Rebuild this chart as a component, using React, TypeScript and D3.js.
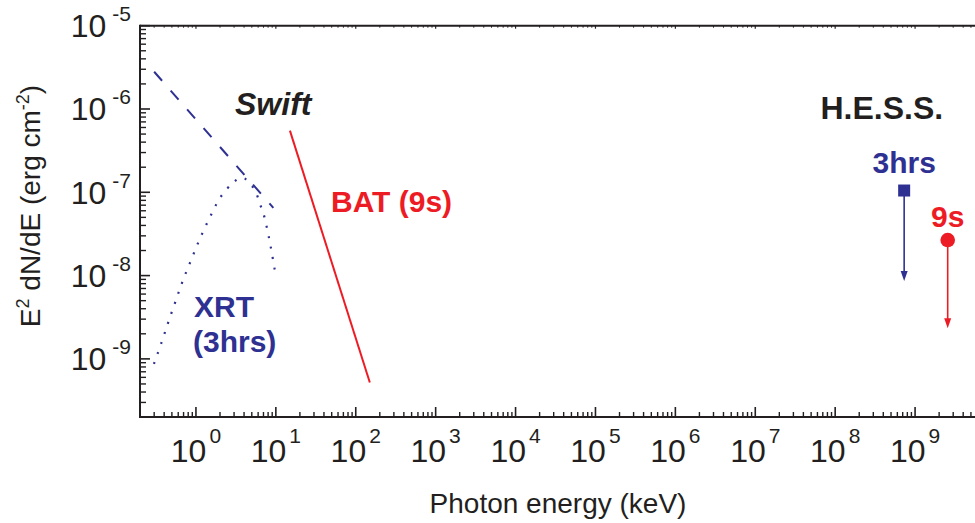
import React from "react";
import * as d3 from "d3";

const W = 975;
const H = 523;
const NAVY = "#2E3192";
const RED = "#ED1C24";
const INK = "#231F20";
const FONT = "'Liberation Sans', Arial, Helvetica, sans-serif";

// axes
const xDomain: [number, number] = [0.2, Math.pow(10, 9.8)];
const yDomain: [number, number] = [2e-10, 1e-5];
const xMajorExps = [0, 1, 2, 3, 4, 5, 6, 7, 8, 9];
const yMajorExps = [-5, -6, -7, -8, -9];
const xTitle = "Photon energy (keV)";

// Swift XRT (3hrs) power law (dashed)
const xrtPowerLawE = [0.3, 9.3];
const xrtPowerLawF = [2.8e-6, 6.5e-8];

// Swift XRT (3hrs) absorbed spectrum (dotted)
const xrtSpecE = [0.298, 0.368, 0.45, 0.557, 0.688, 0.873, 1.12, 1.48, 2.0, 2.85, 3.52, 4.0, 4.39, 5.13, 5.85, 6.32, 6.95, 7.96, 8.86, 9.75];
const xrtSpecF = [8.7e-10, 1.54e-9, 2.75e-9, 4.95e-9, 8.8e-9, 1.55e-8, 2.77e-8, 4.91e-8, 8.55e-8, 1.28e-7, 1.47e-7, 1.47e-7, 1.38e-7, 1.16e-7, 9.1e-8, 7.24e-8, 5.69e-8, 3.27e-8, 1.92e-8, 1.13e-8];

// Swift BAT (9s)
const batE = [15, 150];
const batF = [5.5e-7, 5.2e-10];

// H.E.S.S. upper limits
const hessE = [7.3e8, 2.56e9];
const hessF = [1.05e-7, 2.67e-8];
const hessLimitF = [8.6e-9, 2.33e-9];
const hessLabels = ["3hrs", "9s"];
const hessColors = [NAVY, RED];

export default function App() {
  const x = d3.scaleLog().domain(xDomain).range([140.1, 979]);
  const y = d3.scaleLog().domain(yDomain).range([417.1, 25.7]);
  const left = 140;
  const bottom = 417;
  const top = 25.7;
  const right = W;

  const line = d3
    .line<[number, number]>()
    .x((d) => x(d[0]))
    .y((d) => y(d[1]));
  const curve = d3
    .line<[number, number]>()
    .x((d) => x(d[0]))
    .y((d) => y(d[1]))
    .curve(d3.curveCatmullRom.alpha(0.5));

  const xMinor: number[] = [];
  for (let e = -1; e <= 9; e++) {
    for (let m = 2; m <= 9; m++) {
      const v = m * Math.pow(10, e);
      if (v >= xDomain[0] && v <= xDomain[1]) xMinor.push(v);
    }
  }
  const yMinor: number[] = [];
  for (let e = -10; e <= -6; e++) {
    for (let m = 2; m <= 9; m++) {
      const v = m * Math.pow(10, e);
      if (v >= yDomain[0] && v <= yDomain[1]) yMinor.push(v);
    }
  }

  const zip = (a: number[], b: number[]) => a.map((v, i) => [v, b[i]] as [number, number]);

  return (
    <div style={{ position: "fixed", left: 0, top: 0, width: W, height: H, background: "#fff" }}>
      <svg width={W} height={H} style={{ display: "block" }} fontFamily={FONT}>
        <rect width={W} height={H} fill="#fff" />

        {/* bottom axis ticks */}
        {xMajorExps.map((e) => (
          <line key={"xM" + e} x1={x(Math.pow(10, e))} x2={x(Math.pow(10, e))} y1={bottom} y2={bottom - 10} stroke={INK} strokeWidth={1.6} />
        ))}
        {xMinor.map((v, i) => (
          <line key={"xm" + i} x1={x(v)} x2={x(v)} y1={bottom} y2={bottom - 5} stroke={INK} strokeWidth={1.4} />
        ))}
        {/* top axis small ticks */}
        {xMajorExps.map((e) => (
          <line key={"tM" + e} x1={x(Math.pow(10, e))} x2={x(Math.pow(10, e))} y1={top} y2={top + 3} stroke={INK} strokeWidth={1.2} />
        ))}
        {xMinor.map((v, i) => (
          <line key={"tm" + i} x1={x(v)} x2={x(v)} y1={top} y2={top + 2} stroke={INK} strokeWidth={1} />
        ))}
        {/* left axis ticks */}
        {yMajorExps.map((e) => (
          <line key={"yM" + e} x1={left} x2={left + 10} y1={y(Math.pow(10, e))} y2={y(Math.pow(10, e))} stroke={INK} strokeWidth={1.6} />
        ))}
        {yMinor.map((v, i) => (
          <line key={"ym" + i} x1={left} x2={left + 6} y1={y(v)} y2={y(v)} stroke={INK} strokeWidth={1.4} />
        ))}

        {/* axis lines */}
        <line x1={left} x2={right} y1={bottom} y2={bottom} stroke={INK} strokeWidth={2} />
        <line x1={left} x2={right} y1={top} y2={top} stroke={INK} strokeWidth={2} />
        <line x1={left} x2={left} y1={top - 1} y2={bottom + 1} stroke={INK} strokeWidth={2} />

        {/* x tick labels */}
        {xMajorExps.map((e) => (
          <text key={"xl" + e} x={x(Math.pow(10, e))} y={461.5} textAnchor="middle" fill={INK} fontSize={32}>
            <tspan>10</tspan>
            <tspan dx={3} dy={-19} fontSize={21}>{String(e)}</tspan>
          </text>
        ))}
        {/* y tick labels */}
        {yMajorExps.map((e) => (
          <text key={"yl" + e} x={131} y={y(Math.pow(10, e)) + 11.5} textAnchor="end" fill={INK} fontSize={32}>
            <tspan>10</tspan>
            <tspan dx={6} dy={-16} fontSize={21}>{"-" + String(-e)}</tspan>
          </text>
        ))}

        {/* axis titles */}
        <text x={558} y={513} textAnchor="middle" fill={INK} fontSize={28}>
          {xTitle}
        </text>
        <text transform="translate(40,206) rotate(-90)" textAnchor="middle" fill={INK} fontSize={28}>
          <tspan>E</tspan>
          <tspan dy={-11} fontSize={18}>2</tspan>
          <tspan dy={11}> dN/dE (erg cm</tspan>
          <tspan dy={-11} fontSize={18}>-2</tspan>
          <tspan dy={11}>)</tspan>
        </text>

        {/* XRT power law */}
        <path d={line(zip(xrtPowerLawE, xrtPowerLawF)) || ""} fill="none" stroke={NAVY} strokeWidth={2} strokeDasharray="12 13" />
        {/* XRT spectrum */}
        <path d={curve(zip(xrtSpecE, xrtSpecF)) || ""} fill="none" stroke={NAVY} strokeWidth={2.2} strokeDasharray="2 8.6" />
        {/* BAT */}
        <path d={line(zip(batE, batF)) || ""} fill="none" stroke={RED} strokeWidth={2} />

        {/* H.E.S.S. upper limits */}
        {hessE.map((e, i) => {
          const cx = x(e);
          const cy = y(hessF[i]);
          const ty = y(hessLimitF[i]);
          const c = hessColors[i];
          return (
            <g key={"h" + i}>
              <line x1={cx} x2={cx} y1={cy} y2={ty - 8} stroke={c} strokeWidth={1.6} />
              <path d={`M${cx},${ty} L${cx - 3.5},${ty - 10} L${cx + 3.5},${ty - 10} Z`} fill={c} />
              {i === 0 ? (
                <rect x={cx - 6} y={cy - 6} width={12} height={12} fill={c} />
              ) : (
                <circle cx={cx} cy={cy} r={7.3} fill={c} />
              )}
              <text x={cx} y={i === 0 ? 173 : 226.5} textAnchor="middle" fill={c} fontSize={30} fontWeight="bold">
                {hessLabels[i]}
              </text>
            </g>
          );
        })}

        {/* annotations */}
        <text x={235} y={115} fill={INK} fontSize={32} fontWeight="bold" fontStyle="italic">Swift</text>
        <text x={331} y={211.5} fill={RED} fontSize={30} fontWeight="bold">BAT (9s)</text>
        <text x={194} y={316.5} fill={NAVY} fontSize={30} fontWeight="bold">XRT</text>
        <text x={193} y={351.5} fill={NAVY} fontSize={30} fontWeight="bold">(3hrs)</text>
        <text x={820.5} y={119} fill={INK} fontSize={32} fontWeight="bold">H.E.S.S.</text>
      </svg>
    </div>
  );
}
